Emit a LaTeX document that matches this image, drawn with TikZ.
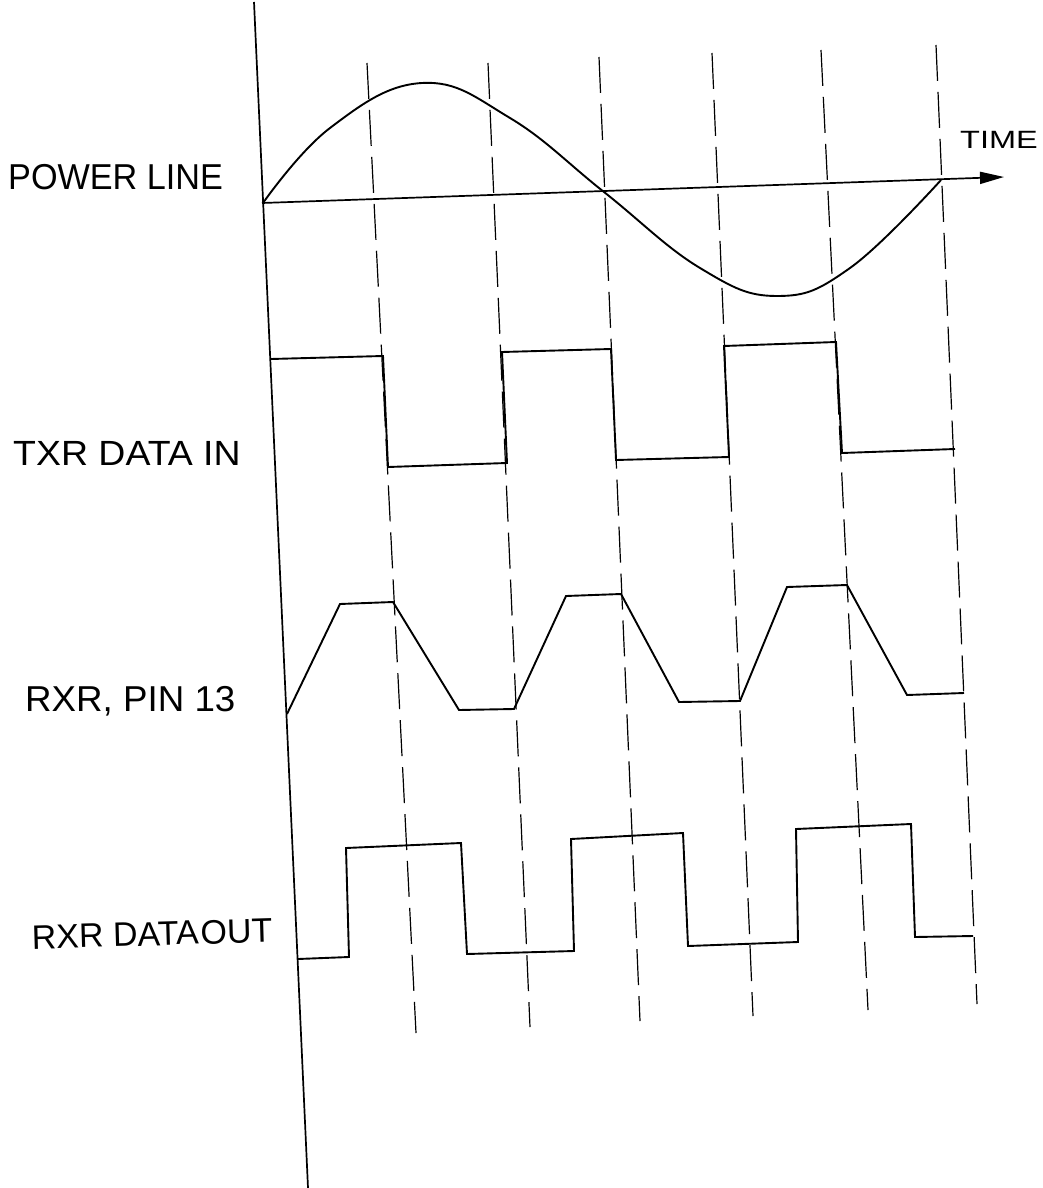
\documentclass[tikz,border=0pt]{standalone}
\usepackage{fontspec}
\setmainfont{Liberation Sans}
\usetikzlibrary{arrows.meta}
\begin{document}
\begin{tikzpicture}[x=1pt,y=-1pt,
  wave/.style={line width=1.9pt, line join=miter},
  axisline/.style={line width=1.7pt},
  guide/.style={line width=1.2pt, dash pattern=on 36pt off 11pt},
  lbl/.style={anchor=base west, inner sep=0pt}]
\useasboundingbox[fill=white] (0,0) rectangle (1042,1188);
% axes
\coordinate (vtop) at (254,2);
\coordinate (vbot) at (308,1188);
\draw[axisline] (vtop) -- (vbot);
\coordinate (t0) at (262,203);
\coordinate (t1) at (1004,177);
\draw[axisline, -{Triangle[length=24pt,width=12pt]}] (t0) -- (t1);
% dashed guides
\coordinate (d1a) at (367,63);  \coordinate (d1b) at (416,1033);
\coordinate (d2a) at (488,63);  \coordinate (d2b) at (530,1027);
\coordinate (d3a) at (599,57);  \coordinate (d3b) at (640,1021);
\coordinate (d4a) at (712,53);  \coordinate (d4b) at (753,1016);
\coordinate (d5a) at (821,50);  \coordinate (d5b) at (868,1010);
\coordinate (d6a) at (936,45);  \coordinate (d6b) at (977,1004);
\foreach \i in {1,...,6} {\draw[guide] (d\i a) -- (d\i b);}
% power line sine
\draw[wave] plot[smooth, tension=0.7] coordinates {(263,203) (330,128) (422,83) (510,118) (604,192) (700,268) (777,296) (850,268) (941,180)};
% TXR data in
\draw[wave] (271,359) -- (383,356) -- (388,467) -- (507,463) -- (502,352) -- (611,349) -- (616,460) -- (729,457) -- (724,346) -- (836,342) -- (842,453) -- (955,449);
% RXR pin 13
\draw[wave] (287,714) -- (340,604) -- (393,602) -- (459,710) -- (514,709) -- (566,596) -- (621,594) -- (679,702) -- (740,701) -- (787,587) -- (847,585) -- (907,695) -- (964,693);
% RXR data out
\draw[wave] (298,959) -- (349,957) -- (346,848) -- (461,843) -- (467,954) -- (574,951) -- (571,839) -- (683,833) -- (688,946) -- (798,942) -- (796,829) -- (911,824) -- (915,937) -- (973,936);
% labels
\node[lbl] (lpower) at (8,189) {\fontsize{36}{40}\selectfont\scalebox{0.95}[1]{POWER LINE}};
\node[lbl] (ltxr) at (13,465) {\fontsize{35}{40}\selectfont\scalebox{1.07}[1]{TXR DATA IN}};
\node[lbl] (lpin) at (25,711) {\fontsize{36}{40}\selectfont\scalebox{1.02}[1]{RXR, PIN 13}};
\node[lbl, rotate=1.6] (lout) at (32,949) {\fontsize{34}{40}\selectfont RXR DATA\kern2pt OUT};
\node[lbl] (ltime) at (960,149) {\fontsize{25}{30}\selectfont\scalebox{1.3}[1]{TIME}};
\end{tikzpicture}
\end{document}
